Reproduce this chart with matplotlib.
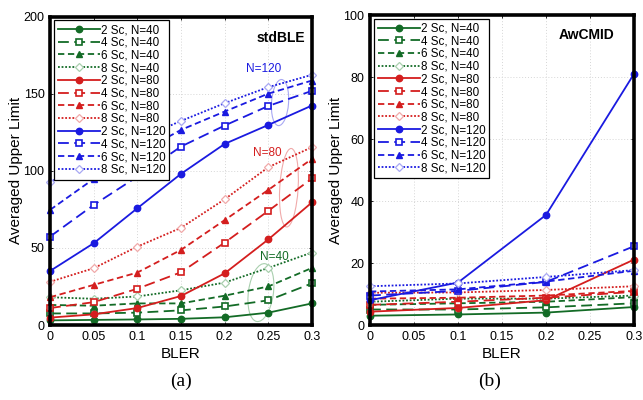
import matplotlib
matplotlib.use("Agg")
import matplotlib.pyplot as plt
from matplotlib.patches import Ellipse
import numpy as np

plt.rcParams['font.family'] = ['Liberation Sans', 'DejaVu Sans']

# ---------------- data ----------------
bler_a = [0, 0.05, 0.1, 0.15, 0.2, 0.25, 0.3]
bler_b = [0, 0.1, 0.2, 0.3]

# stdBLE (panel a)
a_2sc_n40 = [3, 3.3, 3.6, 4, 5, 8, 14]
a_4sc_n40 = [7.5, 7.5, 8, 9.5, 12, 16, 27]
a_6sc_n40 = [13, 12.5, 14, 14, 19, 25, 37]
a_8sc_n40 = [18, 17, 18.5, 22.5, 27.5, 37, 47]
a_2sc_n80 = [4.8, 6.9, 11, 18.8, 33.5, 55.5, 79.5]
a_4sc_n80 = [11, 14.8, 23.5, 34.2, 53.4, 74, 95]
a_6sc_n80 = [18, 26, 34, 48.7, 68, 87.6, 107.7]
a_8sc_n80 = [28, 36.8, 50.8, 63, 81.5, 102.3, 115.3]
a_2sc_n120 = [35, 53, 75.7, 98, 117.4, 129.7, 142.3]
a_4sc_n120 = [57.3, 77.8, 96.2, 115.7, 129.3, 142, 151.8]
a_6sc_n120 = [74.6, 94.7, 111, 126.5, 138.4, 150, 158.5]
a_8sc_n120 = [92.6, 107, 120, 132.3, 143.8, 154.2, 162.2]

# AwCMID (panel b)
b_2sc_n40 = [3, 3.4, 4, 5.8]
b_4sc_n40 = [5, 5, 5.7, 7]
b_6sc_n40 = [6.5, 7, 7.5, 9]
b_8sc_n40 = [7.5, 8.5, 8.5, 9.5]
b_2sc_n80 = [4.3, 5.5, 8, 21.1]
b_4sc_n80 = [6.5, 7.5, 8.8, 10.7]
b_6sc_n80 = [8.5, 8.8, 9.5, 11]
b_8sc_n80 = [10.4, 10.5, 11.3, 12.5]
b_2sc_n120 = [8, 13.7, 35.5, 81]
b_4sc_n120 = [9.5, 11, 13.9, 25.4]
b_6sc_n120 = [10.8, 11.5, 14, 17.5]
b_8sc_n120 = [12.5, 13.4, 15.5, 17.7]

labels_sc = ["2 Sc", "4 Sc", "6 Sc", "8 Sc"]
labels_n = ["N=40", "N=80", "N=120"]

a_series = [[a_2sc_n40, a_4sc_n40, a_6sc_n40, a_8sc_n40],
            [a_2sc_n80, a_4sc_n80, a_6sc_n80, a_8sc_n80],
            [a_2sc_n120, a_4sc_n120, a_6sc_n120, a_8sc_n120]]
b_series = [[b_2sc_n40, b_4sc_n40, b_6sc_n40, b_8sc_n40],
            [b_2sc_n80, b_4sc_n80, b_6sc_n80, b_8sc_n80],
            [b_2sc_n120, b_4sc_n120, b_6sc_n120, b_8sc_n120]]

# ---------------- styles ----------------
colors = ['#136b26', '#d41e1e', '#1a1ae0']
light = ['#a9cfae', '#f0aaaa', '#a8a8f3']
dash_styles = ['-', (0, (6, 3)), (0, (3.5, 2)), (0, (1, 1))]
markers = ['o', 's', '^', 'D']

fig = plt.figure(figsize=(6.43, 4.0), dpi=100)
ax_a = fig.add_axes([50/643, 75/400, 262/643, 308.5/400])
ax_b = fig.add_axes([370/643, 75/400, 264/643, 310/400])


def draw(ax, xs, series):
    for ci, group in enumerate(series):
        for si, ys in enumerate(group):
            m = markers[si]
            kw = dict(color=colors[ci], lw=1.3, linestyle=dash_styles[si],
                      marker=m, label=f"{labels_sc[si]}, {labels_n[ci]}")
            if si == 0:
                kw.update(markersize=4.6, markerfacecolor=colors[ci], markeredgecolor=colors[ci])
            elif si == 1:
                kw.update(markersize=4.8, markerfacecolor='white', markeredgecolor=colors[ci], markeredgewidth=1.2)
            elif si == 2:
                kw.update(markersize=5, markerfacecolor=colors[ci], markeredgecolor=colors[ci])
            else:
                kw.update(markersize=4.5, markerfacecolor='white', markeredgecolor=light[ci], markeredgewidth=0.9)
            ax.plot(xs, ys, clip_on=False, zorder=3, **kw)


def style(ax, yticks):
    ax.set_xlim(0, 0.3)
    ax.set_ylim(yticks[0], yticks[-1])
    ax.set_xticks([0, 0.05, 0.1, 0.15, 0.2, 0.25, 0.3])
    ax.set_xticklabels(['0', '0.05', '0.1', '0.15', '0.2', '0.25', '0.3'])
    ax.set_yticks(yticks)
    ax.tick_params(labelsize=9, direction='in', length=2.5, width=0.6, top=True, right=True, pad=4)
    ax.grid(True, color='#d6d6d6', linestyle=(0, (1, 2)), lw=0.7)
    ax.set_axisbelow(True)
    for sp in ax.spines.values():
        sp.set_linewidth(2.6)
        sp.set_zorder(5)
    ax.set_xlabel('BLER', fontsize=11, labelpad=3)
    ax.set_ylabel('Averaged Upper Limit', fontsize=11, labelpad=0)
    leg = ax.legend(loc='upper left', fontsize=8.4, frameon=True, fancybox=False,
                    edgecolor='black', framealpha=1, handlelength=3.6, handletextpad=0.1,
                    labelspacing=0.06, borderpad=0.35, borderaxespad=0.3)
    leg.get_frame().set_linewidth(0.9)
    leg.set_zorder(10)


draw(ax_a, bler_a, a_series)
draw(ax_b, bler_b, b_series)
style(ax_a, [0, 50, 100, 150, 200])
style(ax_b, [0, 20, 40, 60, 80, 100])

ax_a.text(0.88, 0.93, 'stdBLE', transform=ax_a.transAxes, fontsize=10, fontweight='bold', ha='center', va='center')
ax_b.text(0.82, 0.935, 'AwCMID', transform=ax_b.transAxes, fontsize=10, fontweight='bold', ha='center', va='center')

ax_a.text(0.815, 0.83, 'N=120', transform=ax_a.transAxes, fontsize=8.5, color=colors[2], ha='center', va='center')
ax_a.text(0.83, 0.558, 'N=80', transform=ax_a.transAxes, fontsize=8.5, color=colors[1], ha='center', va='center')
ax_a.text(0.855, 0.222, 'N=40', transform=ax_a.transAxes, fontsize=8.5, color=colors[0], ha='center', va='center')

ax_a.add_patch(Ellipse((0.878, 0.721), 0.065, 0.15, angle=-5, transform=ax_a.transAxes,
                       fill=False, edgecolor=light[2], lw=0.8, zorder=2))
ax_a.add_patch(Ellipse((0.912, 0.445), 0.07, 0.255, angle=-4, transform=ax_a.transAxes,
                       fill=False, edgecolor=light[1], lw=0.8, zorder=2))
ax_a.add_patch(Ellipse((0.805, 0.105), 0.095, 0.19, angle=-10, transform=ax_a.transAxes,
                       fill=False, edgecolor=light[0], lw=0.8, zorder=2))

fig.text(181/643, 1 - 381/400, '(a)', fontsize=14, family=['Liberation Serif', 'DejaVu Serif'], ha='center', va='center')
fig.text(490/643, 1 - 381/400, '(b)', fontsize=14, family=['Liberation Serif', 'DejaVu Serif'], ha='center', va='center')

fig.savefig('out.png', dpi=100)
